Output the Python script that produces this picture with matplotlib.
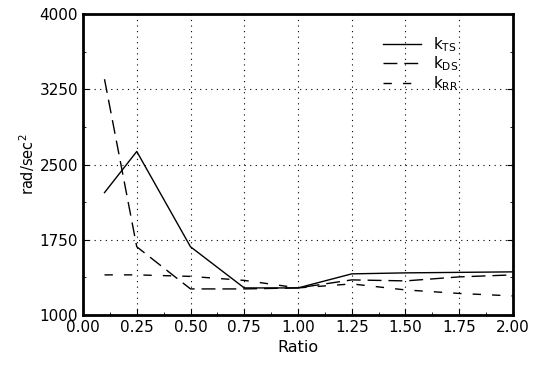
import numpy as np
import matplotlib.pyplot as plt
from matplotlib.ticker import MultipleLocator, FixedLocator

ratio = [0.1, 0.25, 0.5, 0.75, 1.0, 1.25, 1.5, 1.75, 2.0]
k_ts = [2220, 2630, 1680, 1270, 1270, 1410, 1420, 1425, 1430]
k_ds = [3350, 1680, 1260, 1260, 1270, 1350, 1340, 1380, 1400]
k_rr = [1400, 1400, 1385, 1345, 1270, 1310, 1250, 1215, 1190]
yticks = [1000, 1750, 2500, 3250, 4000]

fig = plt.figure(figsize=(5.44, 3.76), dpi=100)
ax = fig.add_axes([0.1526, 0.1622, 0.7904, 0.8006])

ax.plot(ratio, k_ts, 'k-', lw=1.0, label=r'k$_{\mathrm{TS}}$')
ax.plot(ratio, k_ds, 'k-', lw=1.0, dashes=(10, 5), label=r'k$_{\mathrm{DS}}$')
ax.plot(ratio, k_rr, 'k-', lw=1.0, dashes=(6, 8), label=r'k$_{\mathrm{RR}}$')

ax.set_xlim(0, 2)
ax.set_ylim(1000, 4000)
ax.xaxis.set_major_locator(MultipleLocator(0.25))
ax.xaxis.set_minor_locator(MultipleLocator(0.125))
ax.yaxis.set_major_locator(FixedLocator(yticks))
ax.yaxis.set_minor_locator(FixedLocator([1375, 2125, 2875, 3625]))
ax.xaxis.set_major_formatter(plt.FormatStrFormatter('%.2f'))
ax.grid(True, color='k', linestyle=(0, (1, 4)), lw=0.8)
ax.tick_params(which='both', direction='in', top=False, right=True, labelsize=11)
ax.tick_params(which='major', length=4)
ax.tick_params(which='minor', length=2.5)
for s in ax.spines.values():
    s.set_linewidth(2)

ax.set_xlabel('Ratio', fontsize=11.5)
ax.set_ylabel(r'rad/sec$^2$', fontsize=10.5, labelpad=2)

ax.legend(loc='upper right', bbox_to_anchor=(0.905, 0.975), frameon=False,
          fontsize=11, handlelength=2.5, labelspacing=0.05)

plt.savefig('out.png', dpi=100)
